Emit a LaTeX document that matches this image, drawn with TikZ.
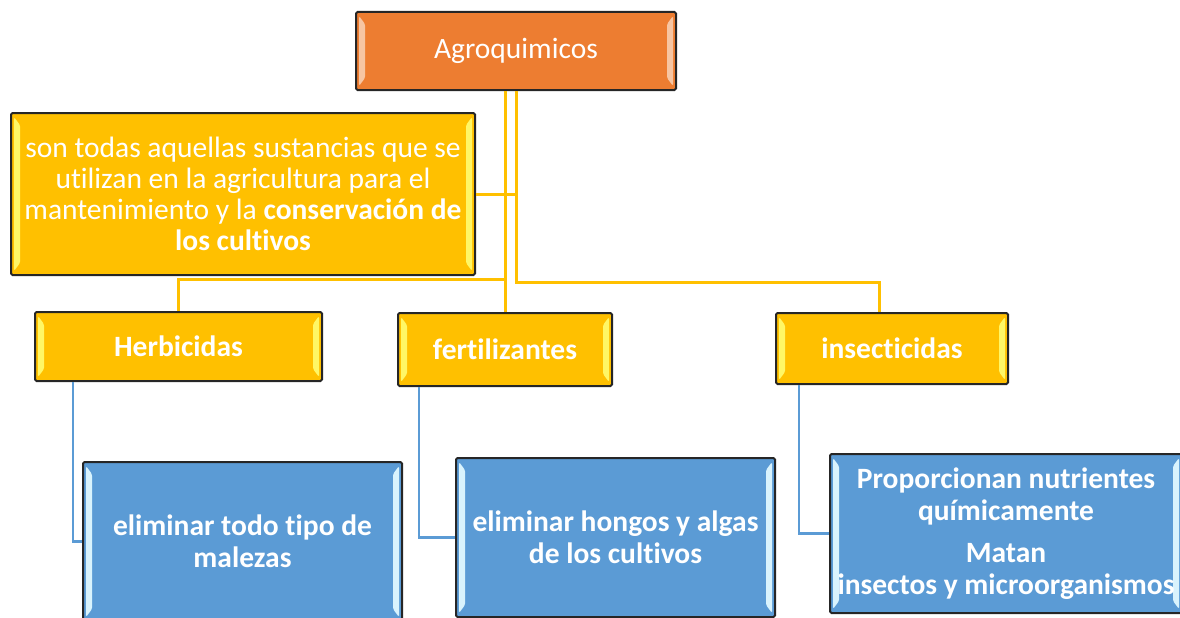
\documentclass[tikz,border=0pt]{standalone}
\usepackage{fontspec}
\setmainfont[Ligatures = NoCommon]{Carlito}

\definecolor{agroorange}{HTML}{ED7D31}
\definecolor{agroyellow}{HTML}{FFC000}
\definecolor{agroblue}{HTML}{5B9BD5}

\tikzset{
	bevel/.style = {path picture = {
		\fill [#1] ([shift = {(3pt, -4pt)}]path picture bounding box.north west) -- ([shift = {(9pt, -12pt)}]path picture bounding box.north west)
			-- ([shift = {(9pt, 12pt)}]path picture bounding box.south west) -- ([shift = {(3pt, 4pt)}]path picture bounding box.south west) -- cycle;
		\fill [#1] ([shift = {(-3pt, -4pt)}]path picture bounding box.north east) -- ([shift = {(-9pt, -12pt)}]path picture bounding box.north east)
			-- ([shift = {(-9pt, 12pt)}]path picture bounding box.south east) -- ([shift = {(-3pt, 4pt)}]path picture bounding box.south east) -- cycle;
	}},
	box/.style = {draw = black!85, line width = 2pt, rounded corners = 1.5pt, text = white, align = center, inner sep = 0pt},
	mainbox/.style = {box, fill = agroorange, bevel = agroorange!45!white, font = \fontsize{29.5}{31}\selectfont},
	yellowbox/.style = {box, fill = agroyellow, bevel = yellow!60!white, font = \fontsize{29.5}{31}\selectfont},
	kindbox/.style = {yellowbox, font = \fontsize{29.5}{31}\selectfont\bfseries},
	bluebox/.style = {box, fill = agroblue, bevel = cyan!15!white, font = \fontsize{29.5}{32}\selectfont\bfseries},
	yellowline/.style = {draw = agroyellow, line width = 3pt},
	blueline/.style = {draw = agroblue, line width = 2.4pt}
}

\begin{document}
\begin{tikzpicture}[x = 1pt, y = -1pt]

	\useasboundingbox (0, 0) rectangle (1180, 618);
	
	% Main concept
	
	\node (agro) [mainbox, minimum width = 320pt, minimum height = 78pt] at (516, 51) {Agroquimicos};
	
	% Definition
	
	\node (defin) [yellowbox, minimum width = 464pt, minimum height = 162pt] at (243, 194)
		{son todas aquellas sustancias que se\\ utilizan en la agricultura para el\\ mantenimiento y la \textbf{conservación de}\\ \textbf{los cultivos}};
	
	% Kinds of agrochemicals
	
	\node (herb) [kindbox, minimum width = 287pt, minimum height = 69pt] at (178.5, 346.5) {Herbicidas};
	\node (fert) [kindbox, minimum width = 214pt, minimum height = 73pt] at (505, 349.5) {fertilizantes};
	\node (insect) [kindbox, minimum width = 232pt, minimum height = 71pt] at (892, 348.5) {insecticidas};
	
	% What each one does
	
	\node (herbuse) [bluebox, minimum width = 319pt, minimum height = 159pt] at (242.5, 541.5) {eliminar todo tipo de\\ malezas};
	\node (fertuse) [bluebox, minimum width = 319pt, minimum height = 159pt] at (615.5, 537.5) {eliminar hongos y algas\\ de los cultivos};
	\node (insectuse) [bluebox, minimum width = 352pt, minimum height = 159pt] at (1006, 533.5)
		{Proporcionan nutrientes\\ químicamente\\[10pt] Matan\\ insectos y microorganismos};
	
	% Yellow connectors
	
	\coordinate (busL) at (0, 279);
	\coordinate (busR) at (0, 282);
	
	\draw [yellowline] (agro.south -| fert.north) -- (fert.north);
	\draw [yellowline] (herb.north) |- (busL -| fert.north);
	\draw [yellowline] (agro.south) -- (agro.south |- busR) -| ([xshift = -13pt]insect.north);
	\draw [yellowline] (defin.east) -- (defin.east -| agro.south);
	
	% Blue connectors
	
	\draw [blueline] ([xshift = 39pt]herb.south west) |- (herbuse.west);
	\draw [blueline] ([xshift = 22pt]fert.south west) |- (fertuse.west);
	\draw [blueline] ([xshift = 24pt]insect.south west) |- (insectuse.west);

\end{tikzpicture}
\end{document}
